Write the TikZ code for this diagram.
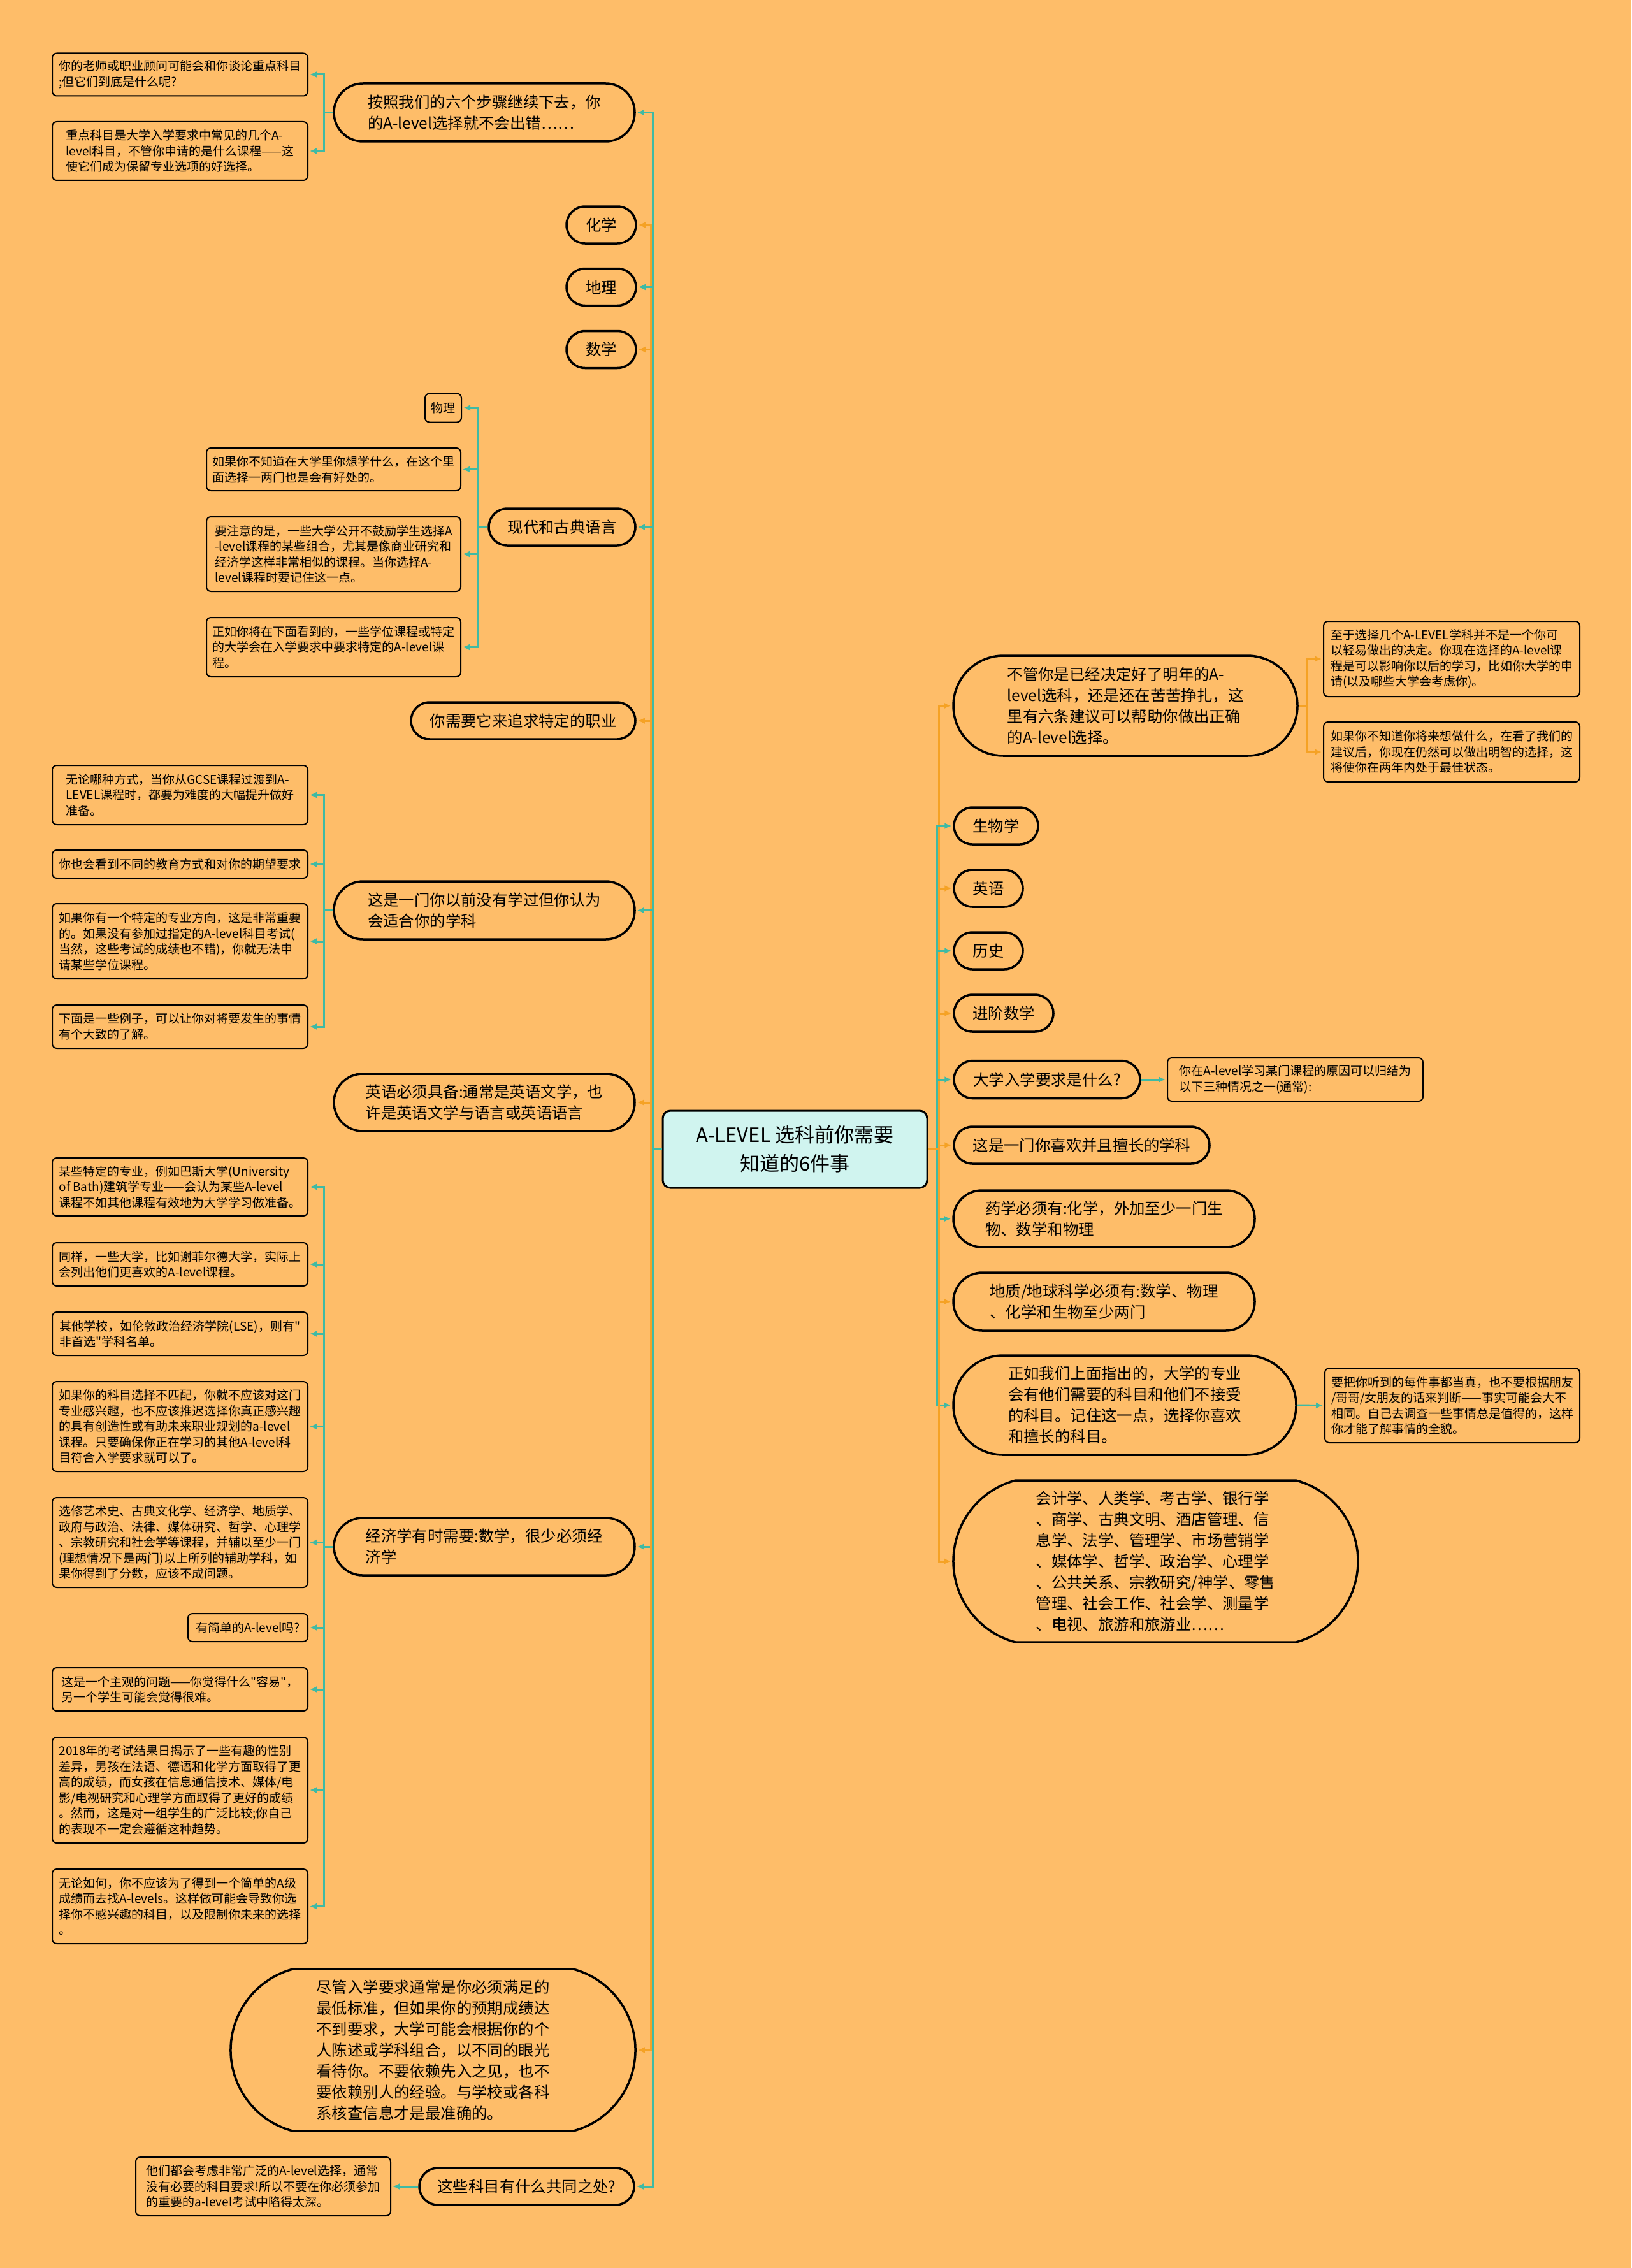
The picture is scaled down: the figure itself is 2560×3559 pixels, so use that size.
\documentclass[tikz,border=0pt]{standalone}
\usepackage{fontspec}
\setmainfont{Noto Sans CJK SC}
\usetikzlibrary{shapes.misc,arrows.meta}

\definecolor{fond}{HTML}{FEBD69}
\definecolor{linkor}{HTML}{F5A225}
\definecolor{linkte}{HTML}{3FBAA4}
\definecolor{rootfill}{HTML}{D0F4EF}

\newcommand{\rootfont}{\fontsize{31pt}{45pt}\selectfont}
\newcommand{\topicfont}{\fontsize{24.4pt}{33pt}\selectfont}
\newcommand{\notefont}{\fontsize{19pt}{24.5pt}\selectfont}

\begin{document}
\begin{tikzpicture}[x=1pt, y=-1pt,
  root/.style={rectangle, rounded corners=12pt, draw=black, line width=3pt, fill=rootfill, align=center, font=\rootfont},
  topic/.style={rounded rectangle, draw=black, line width=3.5pt, align=left, font=\topicfont, inner xsep=0pt, inner ysep=2pt},
  note/.style={rectangle, rounded corners=7pt, draw=black, line width=2pt, align=left, font=\notefont, inner sep=8pt},
  fleche/.style={line width=3pt, -{Latex[length=11pt,width=10pt]}, shorten >=2pt}]
 \begin{scope}
 \fill[fond] (0,0) rectangle (2560,3559); % le fond
 \useasboundingbox (0,0) rectangle (2560,3559);

 % le noeud central
 \node[root, minimum width=415pt, minimum height=121pt] (root) at (1247.5,1803.5) {A-LEVEL 选科前你需要\\知道的6件事};

 % le cote gauche
 \node[topic, minimum width=472pt, minimum height=91pt] (L1) at (760,176.5) {按照我们的六个步骤继续下去，你\\的A-level选择就不会出错……};
 \node[note, minimum width=401pt, minimum height=67pt] (L1a) at (282.5,117) {你的老师或职业顾问可能会和你谈论重点科目\\;但它们到底是什么呢?};
 \node[note, minimum width=401pt, minimum height=92pt] (L1b) at (282.5,237) {重点科目是大学入学要求中常见的几个A-\\level科目，不管你申请的是什么课程——这\\使它们成为保留专业选项的好选择。};

 \node[topic, minimum width=109pt, minimum height=58pt] (L2) at (943.5,353) {化学};
 \node[topic, minimum width=109pt, minimum height=58pt] (L3) at (943.5,450.5) {地理};
 \node[topic, minimum width=109pt, minimum height=58pt] (L4) at (943.5,548.5) {数学};

 \node[topic, minimum width=230pt, minimum height=58pt] (L5) at (882,827) {现代和古典语言};
 \node[note, minimum width=57pt, minimum height=45pt] (L5a) at (695.5,640) {物理};
 \node[note, minimum width=399pt, minimum height=67pt] (L5b) at (523.5,736.5) {如果你不知道在大学里你想学什么，在这个里\\面选择一两门也是会有好处的。};
 \node[note, minimum width=399pt, minimum height=117pt] (L5c) at (523.5,869.5) {要注意的是，一些大学公开不鼓励学生选择A\\-level课程的某些组合，尤其是像商业研究和\\经济学这样非常相似的课程。当你选择A-\\level课程时要记住这一点。};
 \node[note, minimum width=399pt, minimum height=93pt] (L5d) at (523.5,1015.5) {正如你将在下面看到的，一些学位课程或特定\\的大学会在入学要求中要求特定的A-level课\\程。};

 \node[topic, minimum width=352pt, minimum height=58pt] (L6) at (821,1131) {你需要它来追求特定的职业};

 \node[topic, minimum width=472pt, minimum height=91pt] (L7) at (760,1428.5) {这是一门你以前没有学过但你认为\\会适合你的学科};
 \node[note, minimum width=401pt, minimum height=93pt] (L7a) at (282.5,1247.5) {无论哪种方式，当你从GCSE课程过渡到A-\\LEVEL课程时，都要为难度的大幅提升做好\\准备。};
 \node[note, minimum width=401pt, minimum height=44pt] (L7b) at (282.5,1356) {你也会看到不同的教育方式和对你的期望要求};
 \node[note, minimum width=401pt, minimum height=118pt] (L7c) at (282.5,1477) {如果你有一个特定的专业方向，这是非常重要\\的。如果没有参加过指定的A-level科目考试(\\当然，这些考试的成绩也不错)，你就无法申\\请某些学位课程。};
 \node[note, minimum width=401pt, minimum height=68pt] (L7d) at (282.5,1611) {下面是一些例子，可以让你对将要发生的事情\\有个大致的了解。};

 \node[topic, minimum width=472pt, minimum height=90pt] (L8) at (760,1730) {英语必须具备:通常是英语文学，也\\许是英语文学与语言或英语语言};

 \node[topic, minimum width=472pt, minimum height=90pt] (L9) at (760,2427) {经济学有时需要:数学，很少必须经\\济学};
 \node[note, minimum width=401pt, minimum height=91pt] (L9a) at (282.5,1862.5) {某些特定的专业，例如巴斯大学(University\\of Bath)建筑学专业——会认为某些A-level\\课程不如其他课程有效地为大学学习做准备。};
 \node[note, minimum width=401pt, minimum height=68pt] (L9b) at (282.5,1984) {同样，一些大学，比如谢菲尔德大学，实际上\\会列出他们更喜欢的A-level课程。};
 \node[note, minimum width=401pt, minimum height=68pt] (L9c) at (282.5,2093) {其他学校，如伦敦政治经济学院(LSE)，则有\textquotedbl\\非首选\textquotedbl 学科名单。};
 \node[note, minimum width=401pt, minimum height=141pt] (L9d) at (282.5,2238.5) {如果你的科目选择不匹配，你就不应该对这门\\专业感兴趣，也不应该推迟选择你真正感兴趣\\的具有创造性或有助未来职业规划的a-level\\课程。只要确保你正在学习的其他A-level科\\目符合入学要求就可以了。};
 \node[note, minimum width=401pt, minimum height=141pt] (L9e) at (282.5,2420.5) {选修艺术史、古典文化学、经济学、地质学、\\政府与政治、法律、媒体研究、哲学、心理学\\、宗教研究和社会学等课程，并辅以至少一门\\(理想情况下是两门)以上所列的辅助学科，如\\果你得到了分数，应该不成问题。};
 \node[note, minimum width=188pt, minimum height=44pt] (L9f) at (389,2554) {有简单的A-level吗?};
 \node[note, minimum width=401pt, minimum height=68pt] (L9g) at (282.5,2651) {这是一个主观的问题——你觉得什么\textquotedbl 容易\textquotedbl，\\另一个学生可能会觉得很难。};
 \node[note, minimum width=401pt, minimum height=166pt] (L9h) at (282.5,2809) {2018年的考试结果日揭示了一些有趣的性别\\差异，男孩在法语、德语和化学方面取得了更\\高的成绩，而女孩在信息通信技术、媒体/电\\影/电视研究和心理学方面取得了更好的成绩\\。然而，这是对一组学生的广泛比较;你自己\\的表现不一定会遵循这种趋势。};
 \node[note, minimum width=401pt, minimum height=117pt] (L9i) at (282.5,2991.5) {无论如何，你不应该为了得到一个简单的A级\\成绩而去找A-levels。这样做可能会导致你选\\择你不感兴趣的科目，以及限制你未来的选择\\。};

 \node[topic, rounded rectangle arc length=150, minimum width=635pt, minimum height=254pt] (L10) at (679.5,3217) {尽管入学要求通常是你必须满足的\\最低标准，但如果你的预期成绩达\\不到要求，大学可能会根据你的个\\人陈述或学科组合，以不同的眼光\\看待你。不要依赖先入之见，也不\\要依赖别人的经验。与学校或各科\\系核查信息才是最准确的。};

 \node[topic, minimum width=337pt, minimum height=58pt] (L11) at (826.5,3431) {这些科目有什么共同之处?};
 \node[note, minimum width=400pt, minimum height=92pt] (L11a) at (413,3431) {他们都会考虑非常广泛的A-level选择，通常\\没有必要的科目要求!所以不要在你必须参加\\的重要的a-level考试中陷得太深。};

 % le cote droit
 \node[topic, minimum width=540pt, minimum height=157pt] (R1) at (1766,1107.5) {不管你是已经决定好了明年的A-\\level选科，还是还在苦苦挣扎，这\\里有六条建议可以帮助你做出正确\\的A-level选择。};
 \node[note, minimum width=402pt, minimum height=118pt] (R1a) at (2278,1034) {至于选择几个A-LEVEL学科并不是一个你可\\以轻易做出的决定。你现在选择的A-level课\\程是可以影响你以后的学习，比如你大学的申\\请(以及哪些大学会考虑你)。};
 \node[note, minimum width=402pt, minimum height=94pt] (R1b) at (2278,1180) {如果你不知道你将来想做什么，在看了我们的\\建议后，你现在仍然可以做出明智的选择，这\\将使你在两年内处于最佳状态。};

 \node[topic, minimum width=132pt, minimum height=58pt] (R2) at (1563,1296) {生物学};
 \node[topic, minimum width=108pt, minimum height=58pt] (R3) at (1551,1394) {英语};
 \node[topic, minimum width=108pt, minimum height=58pt] (R4) at (1551,1492) {历史};
 \node[topic, minimum width=156pt, minimum height=58pt] (R5) at (1575,1590) {进阶数学};

 \node[topic, minimum width=292pt, minimum height=59pt] (R6) at (1643,1694) {大学入学要求是什么?};
 \node[note, minimum width=401pt, minimum height=68pt] (R6a) at (2032.5,1694) {你在A-level学习某门课程的原因可以归结为\\以下三种情况之一(通常):};

 \node[topic, minimum width=401pt, minimum height=58pt] (R7) at (1697.5,1797) {这是一门你喜欢并且擅长的学科};
 \node[topic, minimum width=473pt, minimum height=89pt] (R8) at (1732.5,1912.5) {药学必须有:化学，外加至少一门生\\物、数学和物理};
 \node[topic, minimum width=473pt, minimum height=91pt] (R9) at (1732.5,2042.5) {地质/地球科学必须有:数学、物理\\、化学和生物至少两门};

 \node[topic, minimum width=538pt, minimum height=156pt] (R10) at (1765,2205) {正如我们上面指出的，大学的专业\\会有他们需要的科目和他们不接受\\的科目。记住这一点，选择你喜欢\\和擅长的科目。};
 \node[note, minimum width=400pt, minimum height=117pt] (R10a) at (2279,2205.5) {要把你听到的每件事都当真，也不要根据朋友\\/哥哥/女朋友的话来判断——事实可能会大不\\相同。自己去调查一些事情总是值得的，这样\\你才能了解事情的全貌。};

 \node[topic, rounded rectangle arc length=150, minimum width=635pt, minimum height=254pt] (R11) at (1813.5,2450) {会计学、人类学、考古学、银行学\\、商学、古典文明、酒店管理、信\\息学、法学、管理学、市场营销学\\、媒体学、哲学、政治学、心理学\\、公共关系、宗教研究/神学、零售\\管理、社会工作、社会学、测量学\\、电视、旅游和旅游业……};

 % les branches principales
\foreach \n/\c/\d in {L1/linkte/-14, L2/linkor/-17, L3/linkte/-14, L4/linkor/-17, L5/linkte/-14, L6/linkor/-17, L7/linkte/-14, L8/linkor/-17, L9/linkte/-14, L10/linkor/-17, L11/linkte/-14}{
    \draw[fleche, \c] (root.west) -- ++(\d,0) |- (\n.east);
}
\foreach \n/\c/\d in {R1/linkor/17, R2/linkte/14, R3/linkor/17, R4/linkte/14, R5/linkor/17, R6/linkte/14, R7/linkor/17, R8/linkte/14, R9/linkor/17, R10/linkte/14, R11/linkor/17}{
    \draw[fleche, \c] (root.east) -- ++(\d,0) |- (\n.west);
}

 % les sous-branches
\foreach \n in {L1a, L1b}{
    \draw[fleche, linkte] (L1.west) -- ++(-14,0) |- (\n.east);
}
\foreach \n in {L5a, L5b, L5c, L5d}{
    \draw[fleche, linkte] (L5.west) -- ++(-15,0) |- (\n.east);
}
\foreach \n in {L7a, L7b, L7c, L7d}{
    \draw[fleche, linkte] (L7.west) -- ++(-14,0) |- (\n.east);
}
\foreach \n in {L9a, L9b, L9c, L9d, L9e, L9f, L9g, L9h, L9i}{
    \draw[fleche, linkte] (L9.west) -- ++(-14,0) |- (\n.east);
}
\foreach \n in {R1a, R1b}{
    \draw[fleche, linkor] (R1.east) -- ++(14,0) |- (\n.west);
}
 \draw[fleche, linkte] (L11.west) -- (L11a.east);
 \draw[fleche, linkte] (R6.east) -- (R6a.west);
 \draw[fleche, linkte] (R10.east) -- (R10a.west);
 \end{scope}
\end{tikzpicture}
\end{document}
